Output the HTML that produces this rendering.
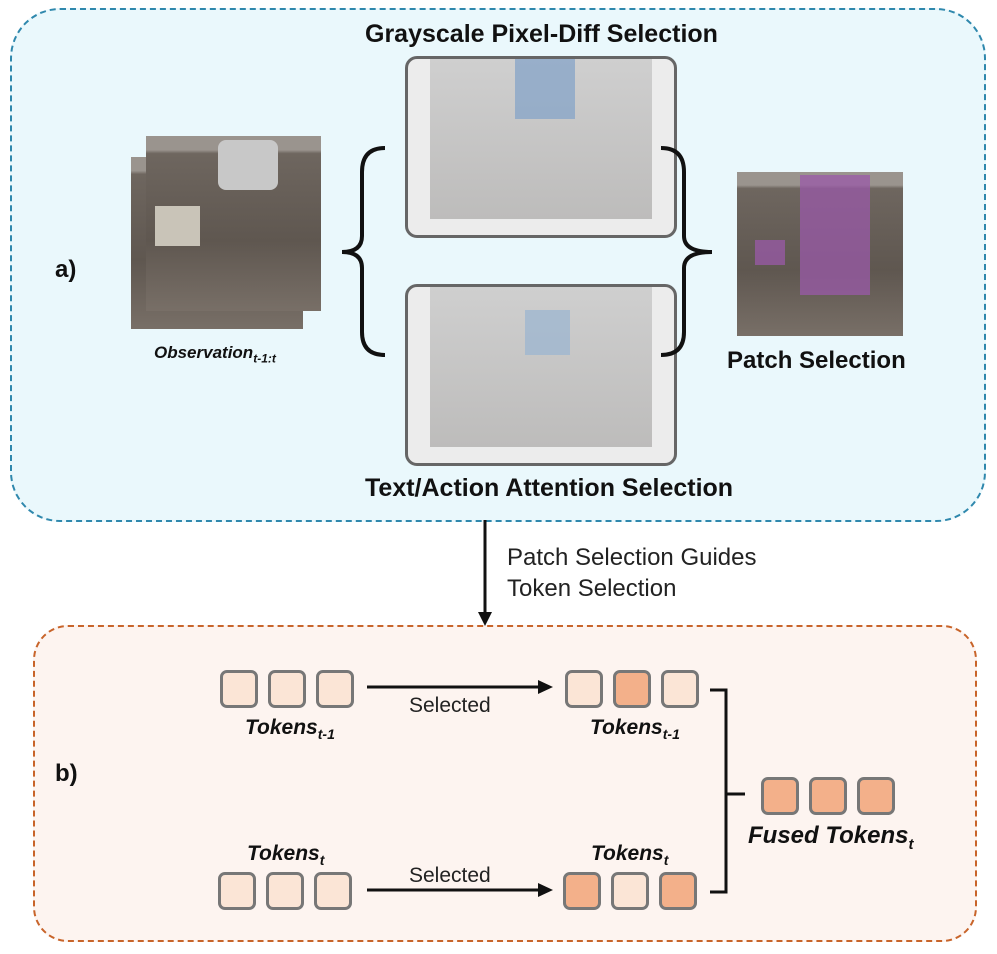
<!DOCTYPE html>
<html><head><meta charset="utf-8"><style>
body{margin:0;width:997px;height:954px;background:#fff;position:relative;overflow:hidden;font-family:"Liberation Sans",sans-serif;}
.a{position:absolute}
.t{position:absolute;font-weight:bold;color:#111;white-space:nowrap}
.tok{position:absolute;width:32px;height:32px;border:3px solid #777;border-radius:7px;background:#fbe5d6}
.d{background:#f3b08a}
.img{position:absolute;background:linear-gradient(#9a948e 0,#9a948e 8%,#6e665f 10%,#5f5750 60%,#786f67 100%)}
</style></head><body>
<div class="a" style="left:10px;top:8px;width:972px;height:510px;border:2px dashed #2f88ad;border-radius:50px;background:#eaf8fc"></div>
<div class="a" style="left:33px;top:625px;width:940px;height:313px;border:2px dashed #c8642a;border-radius:35px;background:#fdf4f0"></div>

<div class="t" style="left:365px;top:20px;font-size:25px">Grayscale Pixel-Diff Selection</div>
<div class="t" style="left:365px;top:474px;font-size:25px">Text/Action Attention Selection</div>
<div class="t" style="left:55px;top:256px;font-size:24px">a)</div>
<div class="t" style="left:55px;top:760px;font-size:24px">b)</div>

<div class="img" style="left:131px;top:157px;width:172px;height:172px"></div>
<div class="img" style="left:146px;top:136px;width:175px;height:175px"></div>
<div class="a" style="left:155px;top:206px;width:45px;height:40px;background:#c9c4b8"></div>
<div class="a" style="left:218px;top:140px;width:60px;height:50px;background:#c8c8c8;border-radius:8px"></div>
<div class="t" style="left:154px;top:343px;font-size:17px;font-style:italic">Observation<sub style="font-size:12px">t-1:t</sub></div>

<div class="a" style="left:405px;top:56px;width:266px;height:176px;border:3px solid #666;border-radius:12px;background:#ececec"></div>
<div class="a" style="left:430px;top:59px;width:222px;height:160px;background:linear-gradient(#cfcfcf,#bdbcbb)"></div>
<div class="a" style="left:515px;top:59px;width:60px;height:60px;background:#8aa6c8;opacity:.8"></div>
<div class="a" style="left:405px;top:284px;width:266px;height:176px;border:3px solid #666;border-radius:12px;background:#ececec"></div>
<div class="a" style="left:430px;top:287px;width:222px;height:160px;background:linear-gradient(#cfcfcf,#bdbcbb)"></div>
<div class="a" style="left:525px;top:310px;width:45px;height:45px;background:#9fb6d0;opacity:.8"></div>

<svg class="a" style="left:0;top:0" width="997" height="954">
<path d="M385 148 Q362 148 362 172 L362 236 Q362 252 342 252 Q362 252 362 268 L362 332 Q362 355 385 355" fill="none" stroke="#111" stroke-width="4"/>
<path d="M661 148 Q684 148 684 172 L684 236 Q684 252 712 252 Q684 252 684 268 L684 332 Q684 355 661 355" fill="none" stroke="#111" stroke-width="4"/>
<line x1="485" y1="520" x2="485" y2="615" stroke="#111" stroke-width="3"/>
<polygon points="478,612 492,612 485,626" fill="#111"/>
<line x1="367" y1="687" x2="540" y2="687" stroke="#111" stroke-width="3"/>
<polygon points="538,680 553,687 538,694" fill="#111"/>
<line x1="367" y1="890" x2="540" y2="890" stroke="#111" stroke-width="3"/>
<polygon points="538,883 553,890 538,897" fill="#111"/>
<path d="M710 690 L726 690 L726 892 L710 892 M726 794 L745 794" fill="none" stroke="#111" stroke-width="3"/>
</svg>

<div class="img" style="left:737px;top:172px;width:166px;height:164px"></div>
<div class="a" style="left:800px;top:175px;width:70px;height:120px;background:#9a5aa8;opacity:.75"></div>
<div class="a" style="left:755px;top:240px;width:30px;height:25px;background:#9a5aa8;opacity:.75"></div>
<div class="t" style="left:727px;top:347px;font-size:24px">Patch Selection</div>

<div class="a" style="left:507px;top:542px;font-size:24px;color:#222;line-height:31px;white-space:nowrap">Patch Selection Guides<br>Token Selection</div>

<div class="tok" style="left:220px;top:670px"></div><div class="tok" style="left:268px;top:670px"></div><div class="tok" style="left:316px;top:670px"></div>
<div class="tok" style="left:565px;top:670px"></div><div class="tok d" style="left:613px;top:670px"></div><div class="tok" style="left:661px;top:670px"></div>
<div class="tok" style="left:218px;top:872px"></div><div class="tok" style="left:266px;top:872px"></div><div class="tok" style="left:314px;top:872px"></div>
<div class="tok d" style="left:563px;top:872px"></div><div class="tok" style="left:611px;top:872px"></div><div class="tok d" style="left:659px;top:872px"></div>
<div class="tok d" style="left:761px;top:777px"></div><div class="tok d" style="left:809px;top:777px"></div><div class="tok d" style="left:857px;top:777px"></div>

<div class="a" style="left:409px;top:694px;font-size:21px;color:#222">Selected</div>
<div class="a" style="left:409px;top:864px;font-size:21px;color:#222">Selected</div>
<div class="t" style="left:245px;top:716px;font-size:21px;font-style:italic">Tokens<sub style="font-size:14px">t-1</sub></div>
<div class="t" style="left:590px;top:716px;font-size:21px;font-style:italic">Tokens<sub style="font-size:14px">t-1</sub></div>
<div class="t" style="left:247px;top:842px;font-size:21px;font-style:italic">Tokens<sub style="font-size:14px">t</sub></div>
<div class="t" style="left:591px;top:842px;font-size:21px;font-style:italic">Tokens<sub style="font-size:14px">t</sub></div>
<div class="t" style="left:748px;top:822px;font-size:24px;font-style:italic">Fused Tokens<sub style="font-size:15px">t</sub></div>
</body></html>
